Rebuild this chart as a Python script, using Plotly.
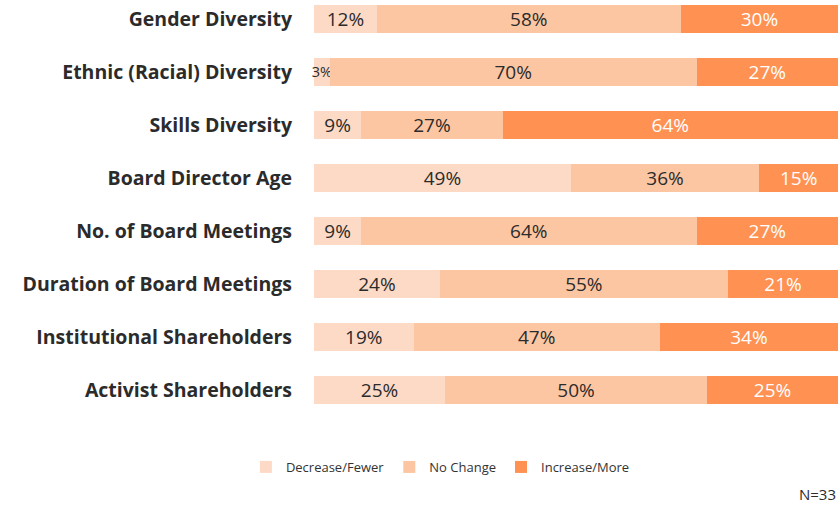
import plotly.graph_objects as go

# ── data ──
CATEGORIES = [
    "Gender Diversity",
    "Ethnic (Racial) Diversity",
    "Skills Diversity",
    "Board Director Age",
    "No. of Board Meetings",
    "Duration of Board Meetings",
    "Institutional Shareholders",
    "Activist Shareholders",
]
DECREASE = [12, 3, 9, 49, 9, 24, 19, 25]
NO_CHANGE = [58, 70, 27, 36, 64, 55, 47, 50]
INCREASE = [30, 27, 64, 15, 27, 21, 34, 25]
SERIES_NAMES = ["Decrease/Fewer", "No Change", "Increase/More"]
N_NOTE = "N=33"

COLORS = ["#FDDAC6", "#FDC6A2", "#FF9152"]
TEXT_COLORS = ["#2b2b2b", "#2b2b2b", "#ffffff"]
FONT = "'Open Sans', Lato, sans-serif"

fig = go.Figure()

for name, vals, col, tcol in zip(SERIES_NAMES, [DECREASE, NO_CHANGE, INCREASE], COLORS, TEXT_COLORS):
    # tiny segments get a smaller label, as in the original
    sizes = [14.5 if v < 5 else 19 for v in vals]
    fig.add_trace(go.Bar(
        name=name,
        y=CATEGORIES,
        x=vals,
        orientation="h",
        marker=dict(color=col, line=dict(width=0)),
        text=[f"{v}%" for v in vals],
        textposition="inside",
        insidetextanchor="middle",
        constraintext="none",
        textangle=0,
        textfont=dict(family=FONT, size=sizes, color=tcol),
        width=0.53,
        cliponaxis=False,
        hoverinfo="skip",
    ))

fig.add_annotation(
    xref="paper", yref="paper",
    x=1.0, y=-0.15,
    xanchor="right", yanchor="middle",
    text=N_NOTE, showarrow=False,
    font=dict(family=FONT, size=15, color="#2b2b2b"),
)

fig.update_layout(
    barmode="stack",
    width=838, height=508,
    margin=dict(l=314, r=0, t=0, b=78),
    plot_bgcolor="white",
    paper_bgcolor="white",
    xaxis=dict(range=[0, 100], showgrid=False, zeroline=False,
               showticklabels=False, fixedrange=True),
    yaxis=dict(
        categoryorder="array", categoryarray=CATEGORIES,
        range=[7.755, -0.358],
        showgrid=False, zeroline=False, showline=False,
        ticks="", ticklabelstandoff=21,
        tickfont=dict(family=FONT, size=19.5, color="#2b2b2b", weight="bold"),
        fixedrange=True,
    ),
    legend=dict(
        orientation="h",
        x=-0.13, y=-0.086,
        xanchor="left", yanchor="middle",
        font=dict(family=FONT, size=13, color="#333333"),
        itemwidth=30,
        traceorder="normal",
    ),
)

# page body has a default 8px margin; drop it so the figure sits at the window corner
fig.write_html("out.html", config={"displayModeBar": False},
               post_script="document.body.style.margin='0';")
